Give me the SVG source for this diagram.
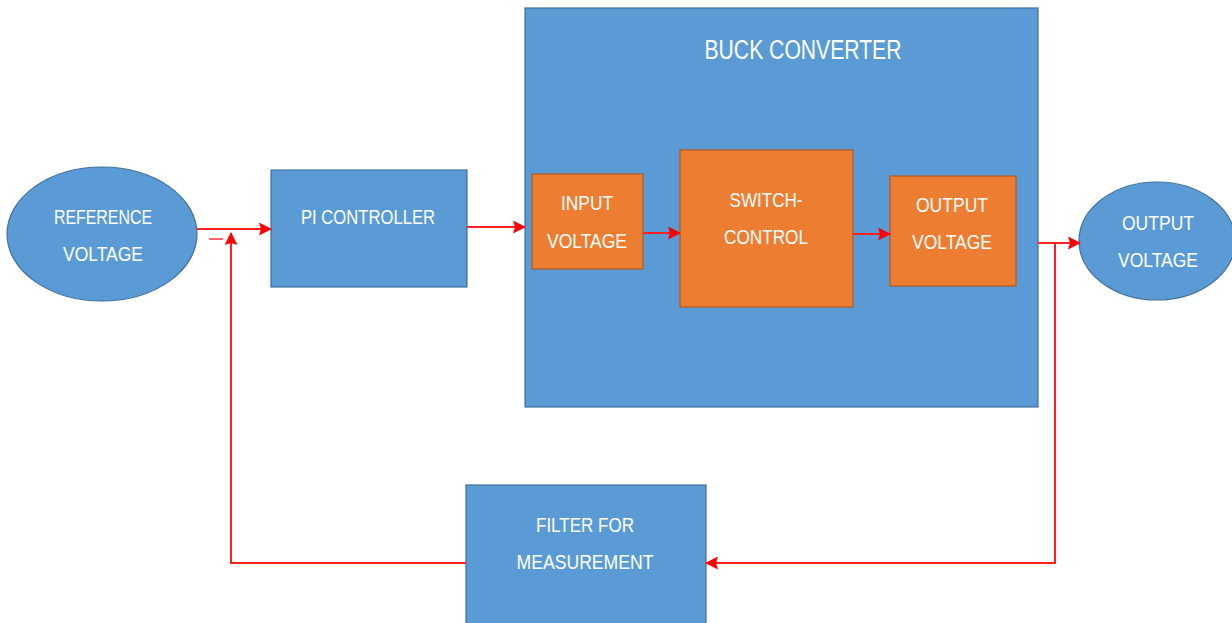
<svg xmlns="http://www.w3.org/2000/svg" width="1232" height="623" viewBox="0 0 1232 623">
<defs>
<style>
.blue{fill:#5B9BD5;stroke:#41719C;stroke-width:1.2}
.orange{fill:#ED7D31;stroke:#AE5A21;stroke-width:1.2}
.t{font-family:"Liberation Sans",Arial,sans-serif;font-size:21px;fill:#FFFFFF;text-anchor:middle}
.c{fill:none;stroke:#FF2020;stroke-width:2}
</style>
<marker id="ah" markerWidth="13" markerHeight="13" refX="12" refY="6.5" orient="auto" markerUnits="userSpaceOnUse">
<path d="M0,0 L13,6.5 L0,13 L2,6.5 Z" fill="#FF0000"/>
</marker>
</defs>
<rect width="1232" height="623" fill="#FFFFFF"/>
<g id="buck-converter">
<rect class="blue" x="525" y="8" width="513" height="399"/>
<text class="t" x="803" y="59" textLength="197" lengthAdjust="spacingAndGlyphs" style="font-size:27px">BUCK CONVERTER</text>
</g>
<g id="reference-voltage">
<ellipse class="blue" cx="102" cy="234" rx="95" ry="67"/>
<text class="t" x="103" y="224" textLength="98" lengthAdjust="spacingAndGlyphs">REFERENCE</text>
<text class="t" x="103" y="261" textLength="80" lengthAdjust="spacingAndGlyphs">VOLTAGE</text>
</g>
<g id="pi-controller">
<rect class="blue" x="271" y="170" width="196" height="117"/>
<text class="t" x="368" y="224" textLength="134" lengthAdjust="spacingAndGlyphs">PI CONTROLLER</text>
</g>
<g id="input-voltage">
<rect class="orange" x="532" y="174" width="111" height="95"/>
<text class="t" x="587" y="210" textLength="52" lengthAdjust="spacingAndGlyphs">INPUT</text>
<text class="t" x="587" y="248" textLength="80" lengthAdjust="spacingAndGlyphs">VOLTAGE</text>
</g>
<g id="switch-control">
<rect class="orange" x="680" y="150" width="173" height="157"/>
<text class="t" x="766" y="207" textLength="73" lengthAdjust="spacingAndGlyphs">SWITCH-</text>
<text class="t" x="766" y="244" textLength="84" lengthAdjust="spacingAndGlyphs">CONTROL</text>
</g>
<g id="output-voltage-inner">
<rect class="orange" x="890" y="176" width="126" height="110"/>
<text class="t" x="952" y="212" textLength="72" lengthAdjust="spacingAndGlyphs">OUTPUT</text>
<text class="t" x="952" y="249" textLength="80" lengthAdjust="spacingAndGlyphs">VOLTAGE</text>
</g>
<g id="output-voltage">
<ellipse class="blue" cx="1157" cy="241" rx="78" ry="59"/>
<text class="t" x="1158" y="230" textLength="72" lengthAdjust="spacingAndGlyphs">OUTPUT</text>
<text class="t" x="1158" y="267" textLength="80" lengthAdjust="spacingAndGlyphs">VOLTAGE</text>
</g>
<g id="filter">
<rect class="blue" x="466" y="485" width="240" height="145"/>
<text class="t" x="585" y="532" textLength="98" lengthAdjust="spacingAndGlyphs">FILTER FOR</text>
<text class="t" x="585" y="569" textLength="137" lengthAdjust="spacingAndGlyphs">MEASUREMENT</text>
</g>
<g id="connectors">
<path class="c" d="M197,229 L271,229" marker-end="url(#ah)"/>
<path class="c" d="M467,227 L525,227" marker-end="url(#ah)"/>
<path class="c" d="M643,233 L680,233" marker-end="url(#ah)"/>
<path class="c" d="M853,234 L890,234" marker-end="url(#ah)"/>
<path class="c" d="M1038,243 L1080,243" marker-end="url(#ah)"/>
<path class="c" d="M1055,243 L1055,563 L706,563" marker-end="url(#ah)"/>
<path class="c" d="M466,563 L231,563 L231,233" marker-end="url(#ah)"/>
<path d="M209,239 L223,239" stroke="#FF3030" stroke-width="1.5"/>
</g>
</svg>
